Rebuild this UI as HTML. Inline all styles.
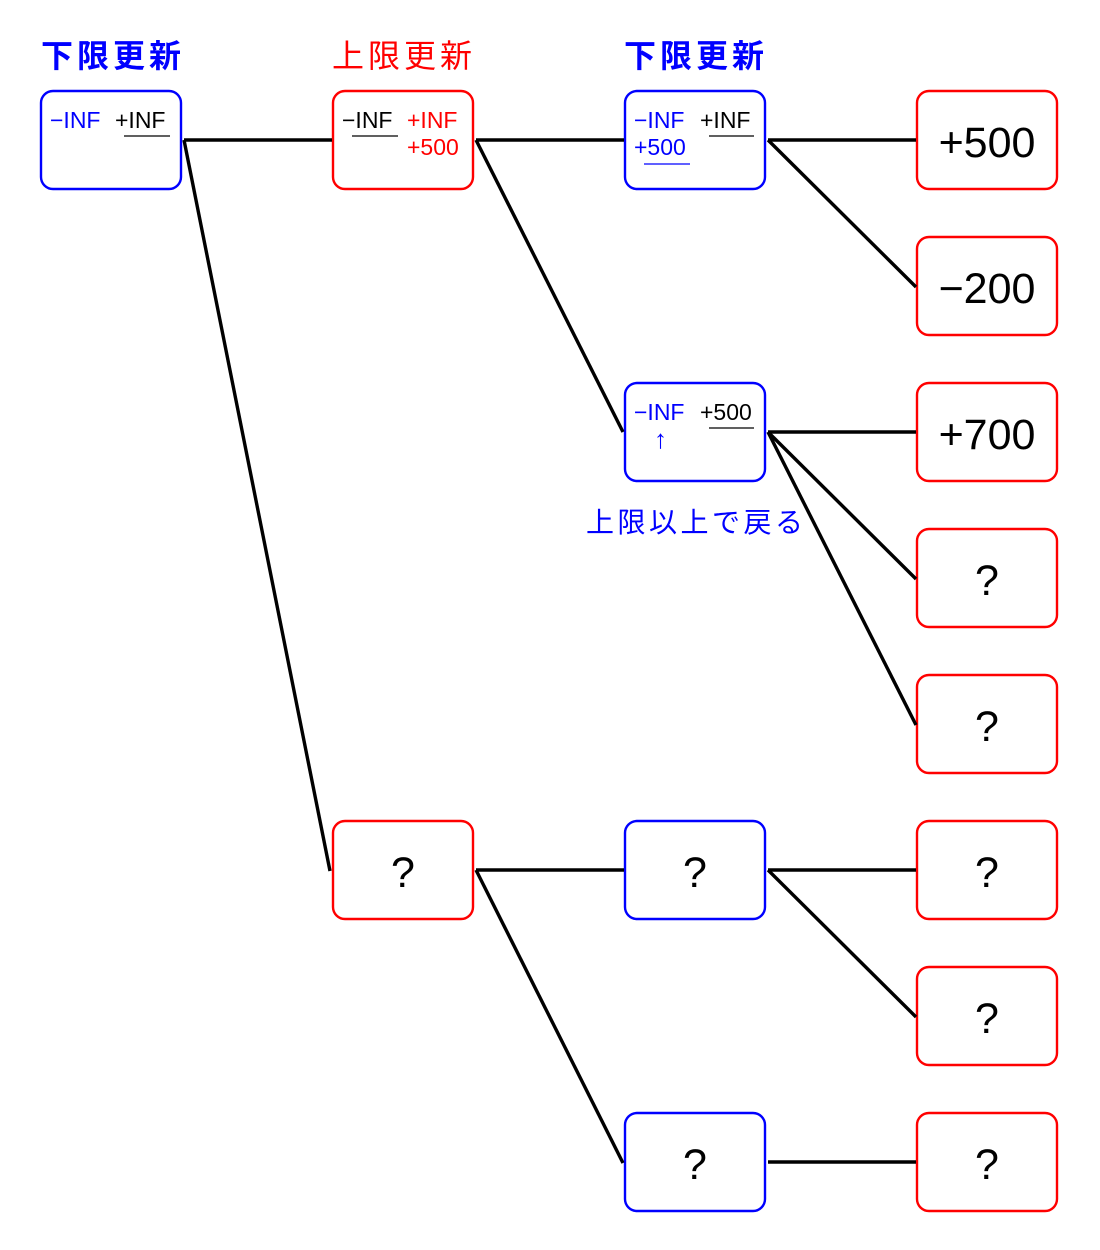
<!DOCTYPE html>
<html><head><meta charset="utf-8"><style>
html,body{margin:0;padding:0;background:#fff}
svg{display:block}
text{font-family:"Liberation Sans","Noto Sans CJK JP",sans-serif}
</style></head><body>
<svg width="1100" height="1250" viewBox="0 0 1100 1250">
<g fill="none" stroke-width="2.4">
<rect x="41" y="91" width="140" height="98" rx="12" stroke="#0000ff"/>
<rect x="333" y="91" width="140" height="98" rx="12" stroke="#ff0000"/>
<rect x="333" y="821" width="140" height="98" rx="12" stroke="#ff0000"/>
<rect x="625" y="91" width="140" height="98" rx="12" stroke="#0000ff"/>
<rect x="625" y="383" width="140" height="98" rx="12" stroke="#0000ff"/>
<rect x="625" y="821" width="140" height="98" rx="12" stroke="#0000ff"/>
<rect x="625" y="1113" width="140" height="98" rx="12" stroke="#0000ff"/>
<rect x="917" y="91" width="140" height="98" rx="12" stroke="#ff0000"/>
<rect x="917" y="237" width="140" height="98" rx="12" stroke="#ff0000"/>
<rect x="917" y="383" width="140" height="98" rx="12" stroke="#ff0000"/>
<rect x="917" y="529" width="140" height="98" rx="12" stroke="#ff0000"/>
<rect x="917" y="675" width="140" height="98" rx="12" stroke="#ff0000"/>
<rect x="917" y="821" width="140" height="98" rx="12" stroke="#ff0000"/>
<rect x="917" y="967" width="140" height="98" rx="12" stroke="#ff0000"/>
<rect x="917" y="1113" width="140" height="98" rx="12" stroke="#ff0000"/>
</g>
<g stroke="#000" stroke-width="3.4" fill="none">
<line x1="184" y1="140" x2="332" y2="140"/>
<line x1="184" y1="140" x2="330" y2="871"/>
<line x1="476" y1="140" x2="624" y2="140"/>
<line x1="476" y1="140" x2="623" y2="432"/>
<line x1="768" y1="140" x2="916" y2="140"/>
<line x1="768" y1="140" x2="916" y2="287"/>
<line x1="768" y1="432" x2="916" y2="432"/>
<line x1="768" y1="432" x2="916" y2="579"/>
<line x1="768" y1="432" x2="916" y2="725"/>
<line x1="476" y1="870" x2="624" y2="870"/>
<line x1="476" y1="870" x2="623" y2="1163"/>
<line x1="768" y1="870" x2="916" y2="870"/>
<line x1="768" y1="870" x2="916" y2="1017"/>
<line x1="768" y1="1162" x2="916" y2="1162"/>
</g>
<g font-size="32" letter-spacing="4">
<text x="41" y="67" fill="#0000ff" font-weight="bold">下限更新</text>
<text x="332" y="67" fill="#ff0000">上限更新</text>
<text x="624" y="67" fill="#0000ff" font-weight="bold">下限更新</text>
</g>
<g font-size="23">
<text x="50" y="128" fill="#0000ff">−INF</text>
<text x="115" y="128" fill="#000">+INF</text>
<line x1="124" y1="136" x2="170" y2="136" stroke="#000" stroke-width="1.2"/>
<text x="342" y="128" fill="#000">−INF</text>
<line x1="352" y1="136" x2="398" y2="136" stroke="#000" stroke-width="1.2"/>
<text x="407" y="128" fill="#ff0000">+INF</text>
<text x="407" y="155" fill="#ff0000">+500</text>
<text x="634" y="128" fill="#0000ff">−INF</text>
<text x="700" y="128" fill="#000">+INF</text>
<line x1="709" y1="136" x2="754" y2="136" stroke="#000" stroke-width="1.2"/>
<text x="634" y="155" fill="#0000ff">+500</text>
<line x1="644" y1="164" x2="690" y2="164" stroke="#0000ff" stroke-width="1.2"/>
<text x="634" y="420" fill="#0000ff">−INF</text>
<text x="700" y="420" fill="#000">+500</text>
<line x1="709" y1="428" x2="754" y2="428" stroke="#000" stroke-width="1.2"/>
</g>
<text x="654" y="448" font-size="26" fill="#0000ff">↑</text>
<text x="586" y="532" font-size="28" letter-spacing="3.5" fill="#0000ff">上限以上で戻る</text>
<g font-size="43" text-anchor="middle" fill="#000">
<text x="987" y="157">+500</text>
<text x="987" y="303">−200</text>
<text x="987" y="449">+700</text>
<text x="987" y="595">?</text>
<text x="987" y="741">?</text>
<text x="987" y="887">?</text>
<text x="987" y="1033">?</text>
<text x="987" y="1179">?</text>
<text x="403" y="887">?</text>
<text x="695" y="887">?</text>
<text x="695" y="1179">?</text>
</g>
</svg>
</body></html>
